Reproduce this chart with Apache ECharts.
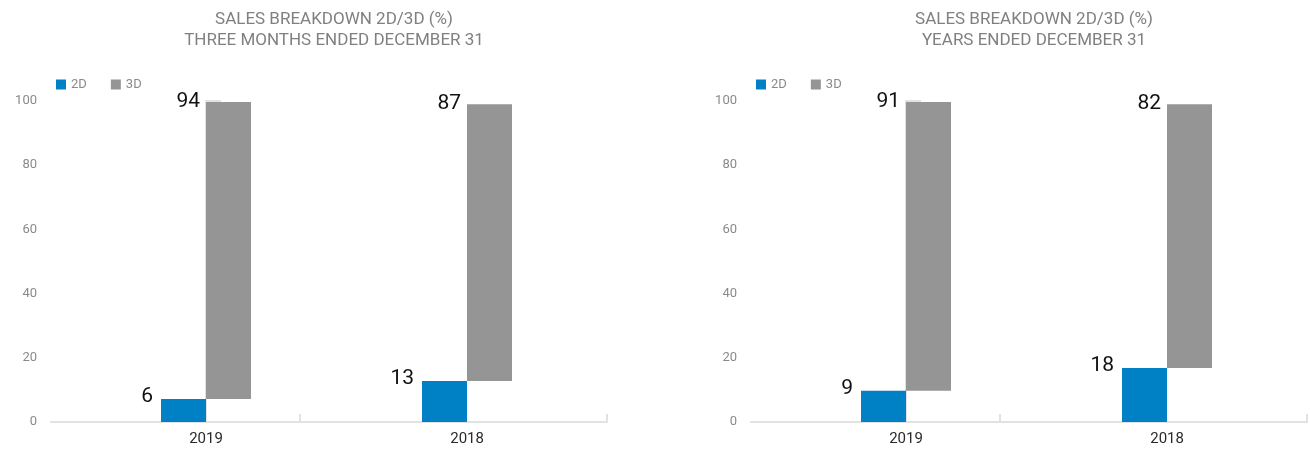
<!DOCTYPE html>
<html>
<head>
<meta charset="utf-8">
<script src="https://cdn.jsdelivr.net/npm/echarts@6/dist/echarts.min.js"></script>
<style>
  html, body { margin: 0; padding: 0; background: #fff; }
  #main { width: 1310px; height: 449px; }
</style>
</head>
<body>
<div id="main"></div>
<script>
// categories and values
var categories = ['2019', '2018']
var yTicks = [0, 20, 40, 60, 80, 100]

// three months ended december 31
var qtr2D = [7.2, 12.8]
var qtr3D = [92.5, 86.2]
var qtr2DLabels = ['6', '13']
var qtr3DLabels = ['94', '87']

// years ended december 31
var year2D = [9.7, 16.8]
var year3D = [90.0, 82.2]
var year2DLabels = ['9', '18']
var year3DLabels = ['91', '82']

var BLUE = '#0081c6'
var GRAY = '#959596'
var AXIS = '#e2e2e2'
var FONT = 'Roboto, "Open Sans", sans-serif'

var chart = echarts.init(document.getElementById('main'))

var titles = []
var legends = []
var grids = []
var xAxes = []
var yAxes = []
var series = []

function barLabel(texts, pos) {
  return {
    show: true,
    position: pos,
    align: 'right',
    verticalAlign: 'middle',
    fontFamily: FONT,
    fontSize: 21,
    color: '#111',
    formatter: function (p) {
      return texts[p.dataIndex]
    },
  }
}

function addPanel(left, subTitle, twoD, threeD, lab2D, lab3D) {
  var width = 556
  var g = grids.length
  titles.push({
    text: 'SALES BREAKDOWN 2D/3D (%)\n' + subTitle,
    left: left + width / 2,
    textAlign: 'center',
    top: 4,
    textStyle: {
      fontFamily: FONT,
      fontSize: 17,
      fontWeight: 'normal',
      color: '#808080',
      lineHeight: 21,
    },
  })
  legends.push({
    left: left,
    top: 73,
    itemWidth: 10,
    itemHeight: 10,
    itemGap: 24,
    icon: 'rect',
    data: ['2D', '3D'],
    textStyle: { fontFamily: FONT, fontSize: 13, color: '#8a8a8a' },
    selectedMode: false,
  })

  // frame grid: axes, ticks and year labels
  grids.push({ left: left, top: 101, width: width, height: 321 })
  xAxes.push({
    gridIndex: g,
    type: 'value',
    min: -0.594,
    max: 1.536,
    splitLine: { show: false },
    axisLine: { show: true, lineStyle: { color: AXIS, width: 2 } },
    axisTick: {
      show: true,
      inside: true,
      length: 8,
      customValues: [0.36, 1.536],
      lineStyle: { color: AXIS, width: 2 },
    },
    axisLabel: {
      customValues: [0, 1],
      formatter: function (v) {
        return categories[Math.round(v)]
      },
      fontFamily: FONT,
      fontSize: 15,
      color: '#2a2a2a',
      margin: 10,
    },
  })
  yAxes.push({
    gridIndex: g,
    type: 'value',
    min: yTicks[0],
    max: yTicks[yTicks.length - 1],
    interval: 20,
    splitLine: { show: false },
    axisLine: { show: true, lineStyle: { color: AXIS, width: 2 } },
    axisTick: { show: true, inside: true, length: 15, lineStyle: { color: AXIS, width: 2 } },
    axisLabel: { fontFamily: FONT, fontSize: 13, color: '#8a8a8a', margin: 14 },
  })

  // bar grid: hidden category axis, placed so bar pairs sit over the year labels
  grids.push({ left: left + 24.5, top: 101, width: 522, height: 321 })
  xAxes.push({ gridIndex: g + 1, type: 'category', data: categories, show: false })
  yAxes.push({
    gridIndex: g + 1,
    type: 'value',
    min: yTicks[0],
    max: yTicks[yTicks.length - 1],
    show: false,
  })

  series.push({
    name: '2D',
    type: 'bar',
    xAxisIndex: g + 1,
    yAxisIndex: g + 1,
    barWidth: 45,
    barGap: '0%',
    itemStyle: { color: BLUE },
    label: barLabel(lab2D, [-8, -2]),
    data: twoD,
  })
  // invisible base so the 3D bar starts where 2D ends
  series.push({
    name: 'base',
    type: 'bar',
    stack: 'total' + g,
    xAxisIndex: g + 1,
    yAxisIndex: g + 1,
    barWidth: 45,
    barGap: '0%',
    itemStyle: { color: 'transparent' },
    silent: true,
    data: twoD,
  })
  series.push({
    name: '3D',
    type: 'bar',
    stack: 'total' + g,
    xAxisIndex: g + 1,
    yAxisIndex: g + 1,
    barWidth: 45,
    barGap: '0%',
    itemStyle: { color: GRAY },
    label: barLabel(lab3D, [-6, 0]),
    data: threeD,
  })
}

addPanel(51, 'THREE MONTHS ENDED DECEMBER 31', qtr2D, qtr3D, qtr2DLabels, qtr3DLabels)
addPanel(751, 'YEARS ENDED DECEMBER 31', year2D, year3D, year2DLabels, year3DLabels)

var option = {
  animation: false,
  color: [BLUE, 'transparent', GRAY],
  title: titles,
  legend: legends,
  grid: grids,
  xAxis: xAxes,
  yAxis: yAxes,
  series: series,
}
chart.setOption(option)
</script>
</body>
</html>
